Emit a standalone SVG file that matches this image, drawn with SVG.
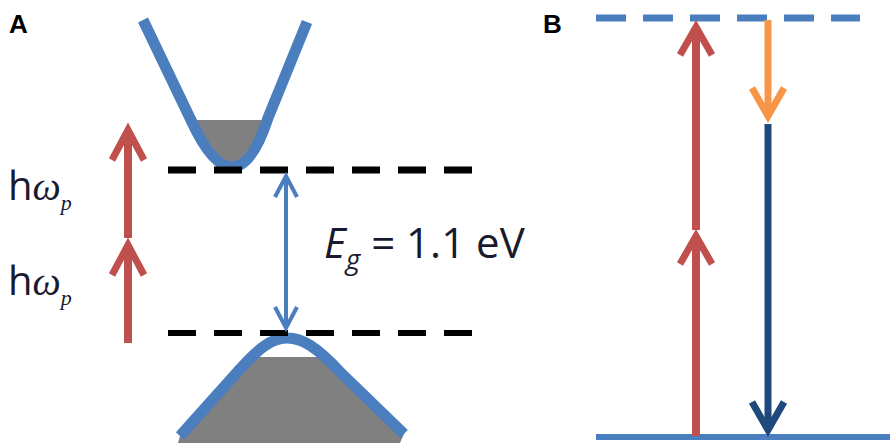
<svg xmlns="http://www.w3.org/2000/svg" width="893" height="447" viewBox="0 0 893 447">
<style>
.lbl{font-family:"Liberation Sans",Arial,sans-serif;font-weight:bold;font-size:26px;fill:#000}
.t{font-family:"Open Sans","Liberation Sans",sans-serif;fill:#1a1a2e}
.band{fill:none;stroke:#4a7ebf;stroke-width:11}
.red{stroke:#c0504d;stroke-width:8;fill:none}
.chev{stroke-width:7;fill:none;stroke-linejoin:miter}
</style>
<defs>
<clipPath id="vc"><rect x="0" y="357" width="893" height="90"/></clipPath>
</defs>
<rect width="893" height="447" fill="#fff"/>
<text class="lbl" x="9" y="33">A</text>
<text class="lbl" x="543" y="33">B</text>
<g id="conduction">
<path d="M193,120 L268,120 Q248,167 232,167 Q212,167 193,120Z" fill="#808080"/>
<path class="band" d="M143,20 L190,118 Q212,167 232,167 Q252,167 268,118 L307,22"/>
</g>
<g id="valence">
<path clip-path="url(#vc)" d="M178,443 L180,436 L232,378 C260,346 272,338 287,338 C302,338 316,346 342,374 L404,434 L400,443 Z" fill="#808080"/>
<path class="band" d="M180,436 L232,378 C260,346 272,338 287,338 C302,338 316,346 342,374 L404,434"/>
</g>
<g id="levels">
<line x1="168" y1="170" x2="478" y2="170" stroke="#000" stroke-width="7" stroke-dasharray="28,18"/>
<line x1="168" y1="333" x2="478" y2="333" stroke="#000" stroke-width="6" stroke-dasharray="28,18"/>
<line x1="596" y1="18" x2="860" y2="18" stroke="#4a7ebf" stroke-width="7" stroke-dasharray="30,17"/>
<line x1="596" y1="437" x2="890" y2="437" stroke="#4a7ebf" stroke-width="6"/>
</g>
<g id="connectors">
<line class="red" x1="128" y1="238" x2="128" y2="131"/>
<polyline class="chev" stroke="#c0504d" points="112,160 128,130 144,160"/>
<line class="red" x1="128" y1="343" x2="128" y2="245"/>
<polyline class="chev" stroke="#c0504d" points="112,275 128,245 144,275"/>
<line x1="286" y1="176" x2="286" y2="328" stroke="#4a7ebf" stroke-width="4"/>
<polyline points="275,197 286,176 297,197" stroke="#4a7ebf" stroke-width="4" fill="none"/>
<polyline points="275,307 286,328 297,307" stroke="#4a7ebf" stroke-width="4" fill="none"/>
<line class="red" x1="696" y1="436" x2="696" y2="236"/>
<polyline class="chev" stroke="#c0504d" points="680,264 696,236 712,264"/>
<line class="red" x1="696" y1="230" x2="696" y2="27"/>
<polyline class="chev" stroke="#c0504d" points="680,55 696,27 712,55"/>
<line x1="768" y1="20" x2="768" y2="116" stroke="#f79646" stroke-width="7"/>
<polyline class="chev" stroke="#f79646" points="752,88 768,116 784,88"/>
<line x1="768" y1="124" x2="768" y2="430" stroke="#1f497d" stroke-width="7"/>
<polyline class="chev" stroke="#1f497d" points="752,402 768,430 784,402"/>
</g>
<g id="labels">
<text class="t" x="8" y="200" font-size="40">h<tspan font-family="Liberation Serif,serif" font-style="italic">ω</tspan><tspan font-family="Liberation Serif,serif" font-style="italic" font-size="22" dy="10">p</tspan></text>
<text class="t" x="8" y="295" font-size="40">h<tspan font-family="Liberation Serif,serif" font-style="italic">ω</tspan><tspan font-family="Liberation Serif,serif" font-style="italic" font-size="22" dy="10">p</tspan></text>
<text class="t" x="324" y="258" font-size="42"><tspan font-style="italic">E</tspan><tspan font-style="italic" font-size="28" dy="11">g</tspan><tspan dy="-11"> = 1.1 eV</tspan></text>
</g>
</svg>
